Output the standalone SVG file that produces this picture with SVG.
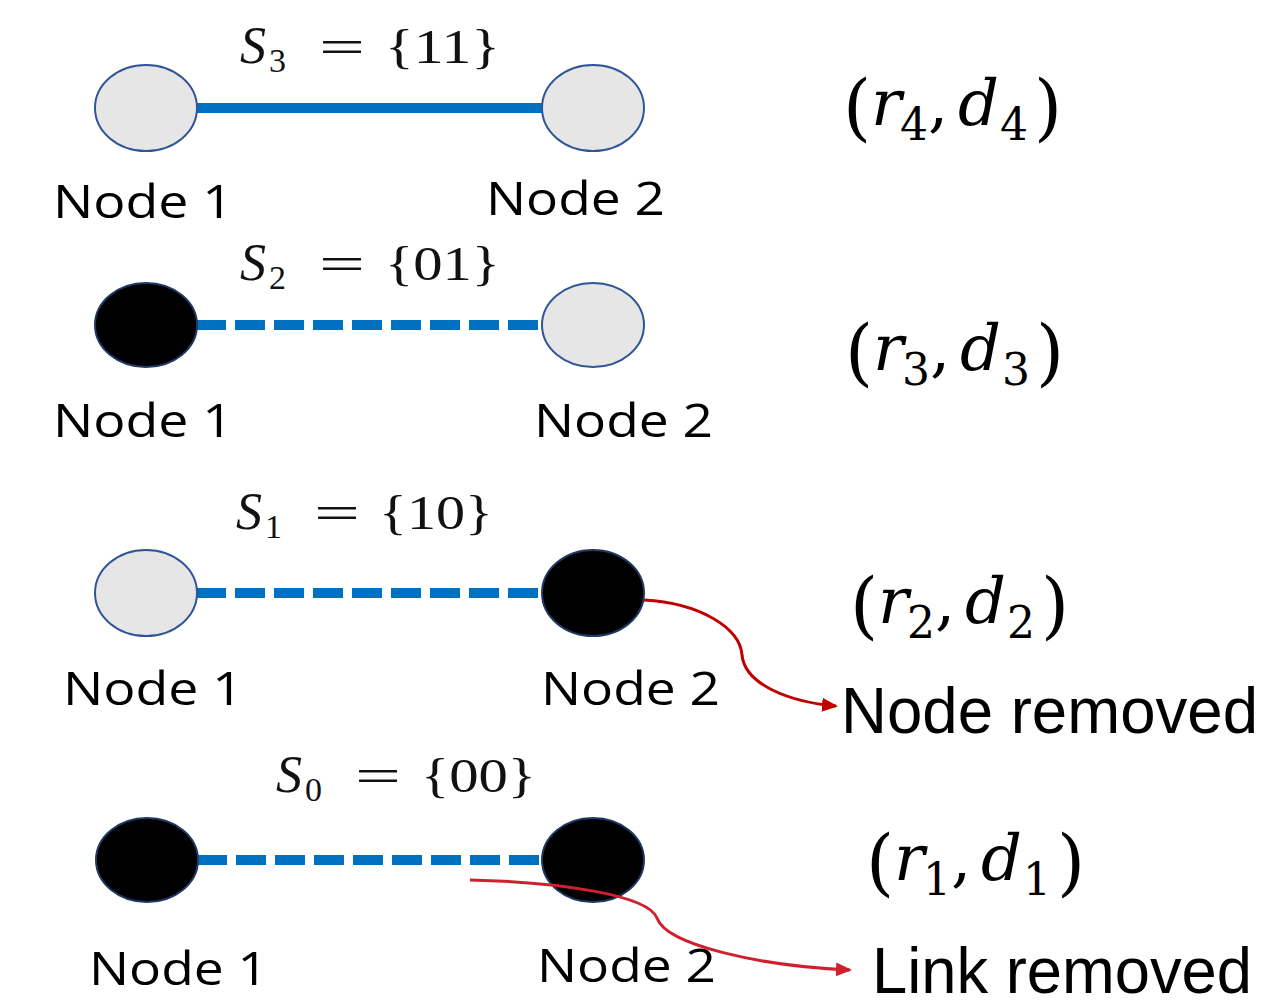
<svg xmlns="http://www.w3.org/2000/svg" width="1267" height="1005" viewBox="0 0 1267 1005">
<style>
.lt{fill:#E6E6E6;stroke:#2F5597;stroke-width:2}
.bk{fill:#000;stroke:#1F3864;stroke-width:2}
.solid{stroke:#0070C0;stroke-width:10;fill:none}
.dash{stroke:#0070C0;stroke-width:10;fill:none;stroke-dasharray:30 9}
.nl{font-family:"Open Sans","DejaVu Sans",sans-serif;font-size:45px;fill:#000}
.sl{font-family:"Liberation Serif",serif;font-size:49px;fill:#111}
.si{font-style:italic;font-size:52px}
.sub{font-size:34px}
.ml{font-family:"DejaVu Serif",serif;font-size:64px;fill:#000}
.mi{font-style:italic}
.mp{font-size:72px}
.ms{font-size:44px}
.big{font-family:"Liberation Sans",Arial,sans-serif;font-size:64px;fill:#000}
</style>
<defs>
<marker id="ah1" markerUnits="userSpaceOnUse" markerWidth="16" markerHeight="14" refX="14" refY="7" orient="auto">
<path d="M0,0 L16,7 L0,14 Z" fill="#C00000"/>
</marker>
<marker id="ah2" markerUnits="userSpaceOnUse" markerWidth="16" markerHeight="14" refX="14" refY="7" orient="auto">
<path d="M0,0 L16,7 L0,14 Z" fill="#D0202E"/>
</marker>
</defs>

<g id="connectors">
<line class="solid" x1="196" y1="108" x2="543" y2="108"/>
<line class="dash" x1="196" y1="325" x2="543" y2="325"/>
<line class="dash" x1="196" y1="593" x2="543" y2="593"/>
<line class="dash" x1="197" y1="860" x2="543" y2="860"/>
<path d="M644,600 C700,603 740,628 742,655 C745,685 790,702 836,706" fill="none" stroke="#C00000" stroke-width="3" marker-end="url(#ah1)"/>
</g>

<g id="row4-state">
<g id="n1-s3"><ellipse class="lt" cx="146" cy="108" rx="51" ry="43"/></g>
<g id="n2-s3"><ellipse class="lt" cx="593" cy="108" rx="51" ry="43"/></g>
<text class="nl" x="53" y="218" textLength="180" lengthAdjust="spacingAndGlyphs">Node 1</text>
<text class="nl" x="486" y="215" textLength="179" lengthAdjust="spacingAndGlyphs">Node 2</text>
<g class="sl" transform="translate(240,63)">
<text class="si" x="0" y="0">S</text><text class="sub" x="29" y="9">3</text>
<text x="79" y="0" textLength="46" lengthAdjust="spacingAndGlyphs">=</text>
<text x="145" y="0" textLength="115" lengthAdjust="spacingAndGlyphs">{11}</text>
</g>
<text class="ml" transform="translate(-2,-245)"><tspan class="mp" x="845" y="377">(</tspan><tspan class="mi" x="873" y="370">r</tspan><tspan class="ms" x="902" y="385">4</tspan><tspan x="930" y="370">,</tspan><tspan class="mi" x="960" y="370">d</tspan><tspan class="ms" x="1002" y="385">4</tspan><tspan class="mp" x="1036" y="377">)</tspan></text>
</g>

<g id="row3-state">
<g id="n1-s2"><ellipse class="bk" cx="146" cy="325" rx="51" ry="42"/></g>
<g id="n2-s2"><ellipse class="lt" cx="593" cy="325" rx="51" ry="42"/></g>
<text class="nl" x="53" y="437" textLength="180" lengthAdjust="spacingAndGlyphs">Node 1</text>
<text class="nl" x="534" y="437" textLength="179" lengthAdjust="spacingAndGlyphs">Node 2</text>
<g class="sl" transform="translate(240,280)">
<text class="si" x="0" y="0">S</text><text class="sub" x="29" y="9">2</text>
<text x="79" y="0" textLength="46" lengthAdjust="spacingAndGlyphs">=</text>
<text x="145" y="0" textLength="115" lengthAdjust="spacingAndGlyphs">{01}</text>
</g>
<text class="ml"><tspan class="mp" x="845" y="377">(</tspan><tspan class="mi" x="873" y="370">r</tspan><tspan class="ms" x="902" y="385">3</tspan><tspan x="930" y="370">,</tspan><tspan class="mi" x="960" y="370">d</tspan><tspan class="ms" x="1002" y="385">3</tspan><tspan class="mp" x="1036" y="377">)</tspan></text>
</g>

<g id="row2-state">
<g id="n1-s1"><ellipse class="lt" cx="146" cy="593" rx="51" ry="43"/></g>
<g id="n2-s1"><ellipse class="bk" cx="593" cy="593" rx="51" ry="43"/></g>
<text class="nl" x="63" y="705" textLength="180" lengthAdjust="spacingAndGlyphs">Node 1</text>
<text class="nl" x="541" y="705" textLength="179" lengthAdjust="spacingAndGlyphs">Node 2</text>
<g class="sl" transform="translate(236,529)">
<text class="si" x="0" y="0">S</text><text class="sub" x="29" y="9">1</text>
<text x="78" y="0" textLength="46" lengthAdjust="spacingAndGlyphs">=</text>
<text x="143" y="0" textLength="114" lengthAdjust="spacingAndGlyphs">{10}</text>
</g>
<text class="ml" transform="translate(5,253)"><tspan class="mp" x="845" y="377">(</tspan><tspan class="mi" x="873" y="370">r</tspan><tspan class="ms" x="902" y="385">2</tspan><tspan x="930" y="370">,</tspan><tspan class="mi" x="960" y="370">d</tspan><tspan class="ms" x="1002" y="385">2</tspan><tspan class="mp" x="1036" y="377">)</tspan></text>
<text class="big" x="841" y="733" textLength="417" lengthAdjust="spacingAndGlyphs">Node removed</text>
</g>

<g id="row1-state">
<g id="n1-s0"><ellipse class="bk" cx="147" cy="860" rx="51" ry="42"/></g>
<g id="n2-s0"><ellipse class="bk" cx="593" cy="860" rx="51" ry="42"/></g>
<text class="nl" x="89" y="985" textLength="179" lengthAdjust="spacingAndGlyphs">Node 1</text>
<text class="nl" x="537" y="982" textLength="179" lengthAdjust="spacingAndGlyphs">Node 2</text>
<g class="sl" transform="translate(276,792)">
<text class="si" x="0" y="0">S</text><text class="sub" x="29" y="9">0</text>
<text x="79" y="0" textLength="46" lengthAdjust="spacingAndGlyphs">=</text>
<text x="145" y="0" textLength="115" lengthAdjust="spacingAndGlyphs">{00}</text>
</g>
<text class="ml" transform="translate(21,510)"><tspan class="mp" x="845" y="377">(</tspan><tspan class="mi" x="873" y="370">r</tspan><tspan class="ms" x="902" y="385">1</tspan><tspan x="930" y="370">,</tspan><tspan class="mi" x="960" y="370">d</tspan><tspan class="ms" x="1002" y="385">1</tspan><tspan class="mp" x="1036" y="377">)</tspan></text>
<text class="big" x="872" y="993" textLength="380" lengthAdjust="spacingAndGlyphs">Link removed</text>
</g>

<g id="link-removed-connector">
<path d="M470,880 C560,882 648,895 657,918 C666,945 760,966 850,970" fill="none" stroke="#D0202E" stroke-width="3" marker-end="url(#ah2)"/>
</g>
</svg>
